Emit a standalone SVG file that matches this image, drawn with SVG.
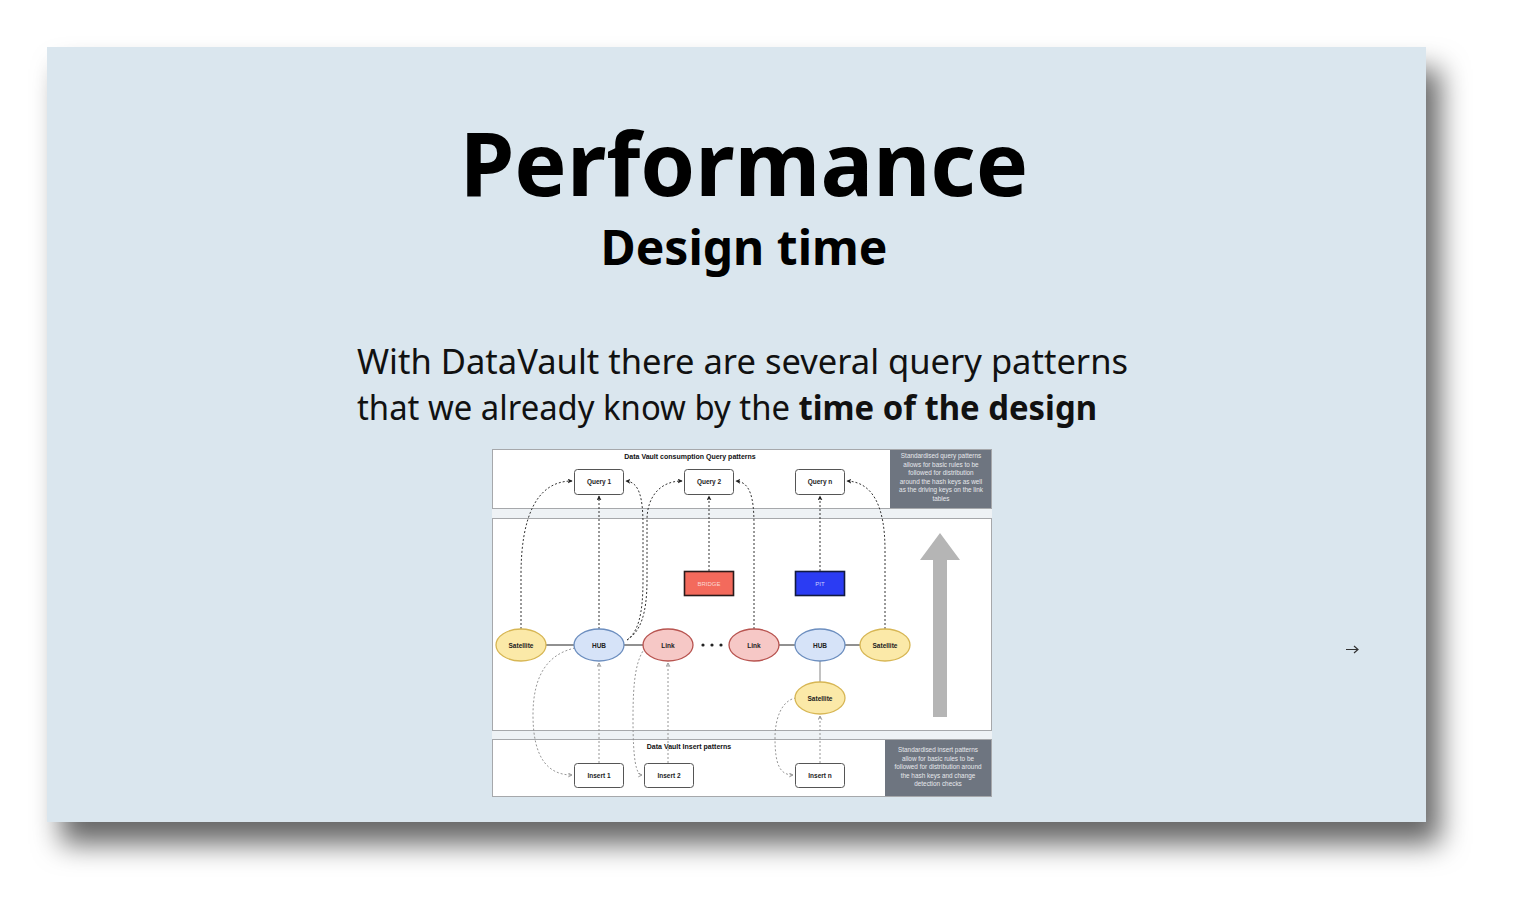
<svg xmlns="http://www.w3.org/2000/svg" width="1521" height="917" viewBox="0 0 1521 917">
<style>
.title{font-family:"Noto Sans",sans-serif;font-weight:700;fill:#000;text-anchor:middle}
.body{font-family:"Noto Sans",sans-serif;font-size:34px;fill:#111}
.dl{font-family:"Liberation Sans",Arial,sans-serif;font-size:7px;font-weight:700;fill:#111;text-anchor:middle}
.nt{font-family:"Liberation Sans",Arial,sans-serif;font-size:6.5px;font-weight:700;fill:#222;text-anchor:middle}
.note{font-family:"Liberation Sans",Arial,sans-serif;font-size:6.4px;fill:#e6e8ec;text-anchor:middle}
.panel{fill:#fff;stroke:#a6a8ab;stroke-width:1}
.box{fill:#fff;stroke:#555;stroke-width:1}
.sat{fill:#fbe9a8;stroke:#d7b654;stroke-width:1.3}
.hub{fill:#d6e3f8;stroke:#6c8ebf;stroke-width:1.3}
.lnk{fill:#f6c8c6;stroke:#b85450;stroke-width:1.3}
.q{fill:none;stroke:#333;stroke-width:1;stroke-dasharray:2 2;marker-end:url(#ah)}
.ins{fill:none;stroke:#8a8a8a;stroke-width:0.9;stroke-dasharray:2 2;marker-end:url(#ao)}
.solid{stroke:#222;stroke-width:1}
</style>
<defs>
<filter id="sh" x="-10%" y="-10%" width="125%" height="135%">
<feDropShadow dx="14" dy="22" stdDeviation="14" flood-color="#000" flood-opacity="0.6"/>
</filter>
<marker id="ah" viewBox="0 0 8 8" refX="7" refY="4" markerWidth="5" markerHeight="5" orient="auto" markerUnits="userSpaceOnUse">
<path d="M0,0 L8,4 L0,8 L2,4 z" fill="#222"/>
</marker>
<marker id="ao" viewBox="0 0 8 8" refX="7" refY="4" markerWidth="5" markerHeight="5" orient="auto" markerUnits="userSpaceOnUse">
<path d="M1,1 L7,4 L1,7" fill="none" stroke="#777" stroke-width="1.2"/>
</marker>
</defs>
<rect width="1521" height="917" fill="#fff"/>
<rect x="47" y="47" width="1379" height="775" fill="#dae6ee" filter="url(#sh)"/>

<g id="title">
<text class="title" x="744" y="196" font-size="88">Performance</text>
<text class="title" x="744" y="265" font-size="48">Design time</text>
</g>
<g id="body">
<text class="body" x="357" y="374" textLength="771" lengthAdjust="spacingAndGlyphs">With DataVault there are several query patterns</text>
<text class="body" x="357" y="420" textLength="740" lengthAdjust="spacingAndGlyphs">that we already know by the <tspan font-weight="700">time of the design</tspan></text>
</g>

<g id="diagram">
<rect x="492" y="449" width="500" height="348" fill="#eef2f5"/>
<g id="query-panel">
<rect class="panel" x="492.5" y="449.5" width="499" height="59"/>
<rect x="890" y="450" width="101" height="58" fill="#6e7580"/>
<text class="dl" x="690" y="459">Data Vault consumption Query patterns</text>
<text class="note" x="941" y="458">Standardised query patterns</text>
<text class="note" x="941" y="466.5">allows for basic rules to be</text>
<text class="note" x="941" y="475">followed for distribution</text>
<text class="note" x="941" y="483.5">around the hash keys as well</text>
<text class="note" x="941" y="492">as the driving keys on the link</text>
<text class="note" x="941" y="500.5">tables</text>
</g>
<g id="model-panel">
<rect class="panel" x="492.5" y="518.5" width="499" height="212"/>
</g>
<g id="insert-panel">
<rect class="panel" x="492.5" y="739.5" width="499" height="57"/>
<rect x="885" y="740" width="106" height="56" fill="#6e7580"/>
<text class="dl" x="689" y="749">Data Vault Insert patterns</text>
<text class="note" x="938" y="752">Standardised insert patterns</text>
<text class="note" x="938" y="760.5">allow for basic rules to be</text>
<text class="note" x="938" y="769">followed for distribution around</text>
<text class="note" x="938" y="777.5">the hash keys and change</text>
<text class="note" x="938" y="786">detection checks</text>
</g>

<g id="connectors">
<line class="solid" x1="546" y1="645" x2="574" y2="645"/>
<line class="solid" x1="624" y1="645" x2="643" y2="645"/>
<line class="solid" x1="779" y1="645" x2="795" y2="645"/>
<line class="solid" x1="845" y1="645" x2="860" y2="645"/>
<line x1="820" y1="661" x2="820" y2="682" stroke="#999" stroke-width="1.2"/>
<path class="q" d="M521,629 L521,575 C521,520 535,481 572,481"/>
<path class="q" d="M599,629 L599,496"/>
<path class="q" d="M627,640 C638,632 643,615 643,580 L643,525 C643,497 639,482 626,481"/>
<path class="q" d="M627,640 C640,632 647,615 647,580 L647,520 C647,497 660,481 682,481"/>
<path class="q" d="M754,629 L754,525 C754,497 750,482 736,481"/>
<path class="q" d="M709,571 L709,496"/>
<path class="q" d="M820,571 L820,496"/>
<path class="q" d="M885,629 L885,550 C885,505 872,482 847,481"/>
<path class="ins" d="M599,763 L599,663"/>
<path class="ins" d="M668,763 L668,663"/>
<path class="ins" d="M820,763 L820,716"/>
<path class="ins" d="M575,648 C548,654 533,675 533,715 C533,758 548,775 572,775"/>
<path class="ins" d="M645,648 C636,660 633,680 633,718 C633,760 636,775 642,775"/>
<path class="ins" d="M796,698 C782,700 775,718 775,738 C775,765 780,775 793,775"/>
</g>

<g id="query1"><rect class="box" x="574.5" y="469.5" width="49" height="25" rx="3"/><text class="nt" x="599" y="484">Query 1</text></g>
<g id="query2"><rect class="box" x="684.5" y="469.5" width="49" height="25" rx="3"/><text class="nt" x="709" y="484">Query 2</text></g>
<g id="queryn"><rect class="box" x="795.5" y="469.5" width="49" height="25" rx="3"/><text class="nt" x="820" y="484">Query n</text></g>

<g id="bridge"><rect x="684.5" y="571.5" width="49" height="24" fill="#f36a5c" stroke="#2a1a1a" stroke-width="1.6"/><text x="709" y="586" font-family="Liberation Sans, Arial, sans-serif" font-size="6" fill="#fbd6d2" text-anchor="middle">BRIDGE</text></g>
<g id="pit"><rect x="795.5" y="571.5" width="49" height="24" fill="#2b3cf3" stroke="#111a40" stroke-width="1.6"/><text x="820" y="586" font-family="Liberation Sans, Arial, sans-serif" font-size="6" fill="#c9ceff" text-anchor="middle">PIT</text></g>

<g id="satellite1"><ellipse class="sat" cx="521" cy="645" rx="25" ry="16"/><text class="nt" x="521" y="647.5">Satellite</text></g>
<g id="hub1"><ellipse class="hub" cx="599" cy="645" rx="25" ry="16"/><text class="nt" x="599" y="647.5">HUB</text></g>
<g id="link1"><ellipse class="lnk" cx="668" cy="645" rx="25" ry="16"/><text class="nt" x="668" y="647.5">Link</text></g>
<g id="ellipsis"><circle cx="703" cy="645" r="1.6" fill="#222"/><circle cx="712" cy="645" r="1.6" fill="#222"/><circle cx="721" cy="645" r="1.6" fill="#222"/></g>
<g id="link2"><ellipse class="lnk" cx="754" cy="645" rx="25" ry="16"/><text class="nt" x="754" y="647.5">Link</text></g>
<g id="hub2"><ellipse class="hub" cx="820" cy="645" rx="25" ry="16"/><text class="nt" x="820" y="647.5">HUB</text></g>
<g id="satellite2"><ellipse class="sat" cx="885" cy="645" rx="25" ry="16"/><text class="nt" x="885" y="647.5">Satellite</text></g>
<g id="satellite3"><ellipse class="sat" cx="820" cy="698" rx="25" ry="16"/><text class="nt" x="820" y="700.5">Satellite</text></g>

<g id="big-arrow"><path d="M933,717 L933,560 L920,560 L940,533 L960,560 L947,560 L947,717 z" fill="#b5b5b5"/></g>

<g id="insert1"><rect class="box" x="574.5" y="763.5" width="49" height="24" rx="3"/><text class="nt" x="599" y="778">Insert 1</text></g>
<g id="insert2"><rect class="box" x="644.5" y="763.5" width="49" height="24" rx="3"/><text class="nt" x="669" y="778">Insert 2</text></g>
<g id="insertn"><rect class="box" x="795.5" y="763.5" width="49" height="24" rx="3"/><text class="nt" x="820" y="778">Insert n</text></g>
</g>

<g id="next-arrow"><path d="M1346,649.5 L1358,649.5 M1354,646 L1358,649.5 L1354,653" fill="none" stroke="#333" stroke-width="1.2"/></g>
</svg>
